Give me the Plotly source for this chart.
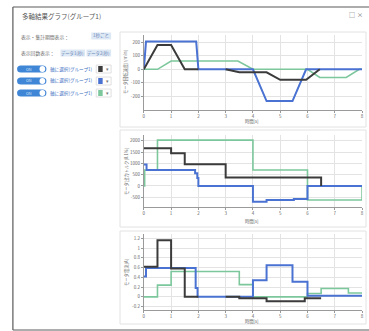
import plotly.graph_objects as go

W, H = 369, 331

# ---------------- data ----------------
# chart 1 : speed (linear segments)
speed_t_black = [0, 0.5, 1.0, 1.5, 2.0, None, 3.0, 3.5, 4.5, 5.0, 5.95, 6.45]
speed_black = [0, 180, 180, 0, 0, None, 0, -22, -22, -78, -78, 0]
speed_t_blue = [0, 0.08, 1.92, 2.0, 4.0, 4.5, 5.45, 5.95, 8.0]
speed_blue = [0, 205, 205, 0, 0, -235, -235, 0, 0]
speed_t_green = [0, 0.5, 1.0, 3.45, 4.0, 6.0, 6.45, 7.42, 7.9, 8.0]
speed_green = [0, 0, 62, 62, 0, 0, -60, -60, 0, 0]

# chart 2 : torque (steps)
torque_t_black = [0, 1.0, 1.5, 3.0, 6.5]
torque_black = [1660, 1450, 960, 370, 0]
torque_t_blue = [0, 0.1, 1.88, 1.96, 2.0, 4.0, 4.5, 5.5, 6.0, 8.0]
torque_blue = [950, 706, 560, 350, 0, -690, -620, -575, 0, 0]
torque_t_green = [0, 0.03, 0.5, 4.0, 6.0, 8.0]
torque_green = [0, 706, 2025, 706, -618, 0]

# chart 3 : current (steps)
current_t_black = [0, 0.5, 1.0, 1.5, 2.0, None, 3.0, 3.5, 4.5, 5.9, 6.5]
current_black = [0.62, 1.16, 0.58, 0, 0, None, 0, -0.03, -0.09, -0.03, -0.03]
current_t_blue = [0, 0.08, 1.9, 1.97, 2.0, 4.0, 4.5, 5.45, 6.0, 8.0]
current_blue = [0.42, 0.59, 0.18, 0.0, 0.0, 0.34, 0.65, 0.31, 0.02, 0.02]
current_t_green = [0, 0.5, 1.0, 3.5, 4.0, 6.0, 6.5, 7.5, 8.0]
current_green = [0, 0.24, 0.52, 0.25, 0, 0.07, 0.17, 0.08, 0.08]

x_ticks = [0, 1, 2, 3, 4, 5, 6, 7, 8]
speed_ticks = [-200, -100, 0, 100, 200]
torque_ticks = [-500, 0, 500, 1000, 1500, 2000]
current_ticks = [-0.2, 0, 0.2, 0.4, 0.6, 0.8, 1, 1.2]
current_ticktext = ["-0.2", "0", "0.2", "0.4", "0.6", "0.8", "1", "1.2"]

title = "多軸結果グラフ(グループ1)"
x_title = "時間[s]"
y_titles = ["モータ回転速度[r/min]", "モータ出力トルク[0.1%]", "モータ電流[A]"]
toggle_labels = ["軸に選択(グループ1)", "軸に選択(グループ1)", "軸に選択(グループ1)"]

BLACK = "#3b3b3b"
BLUE = "#4a72d2"
GREEN = "#7cc79c"
FONT = "Noto Sans CJK JP"


def px(x):
    return x / W


def py(y):
    return 1 - y / H


def text(s, x, y, size, color, xanchor="center", angle=0):
    return dict(text=s, x=px(x), y=py(y), xref="paper", yref="paper", xanchor=xanchor,
                yanchor="middle", showarrow=False, textangle=angle, borderpad=0,
                font=dict(size=size, color=color, family=FONT))


fig = go.Figure()

charts = [
    (speed_t_green, speed_green, speed_t_blue, speed_blue, speed_t_black, speed_black, "linear"),
    (torque_t_green, torque_green, torque_t_blue, torque_blue, torque_t_black, torque_black, "hv"),
    (current_t_green, current_green, current_t_blue, current_blue, current_t_black, current_black, "hv"),
]
for i, (tg, vg, tb, vb, tk, vk, shape) in enumerate(charts):
    xa = "x" if i == 0 else f"x{i+1}"
    ya = "y" if i == 0 else f"y{i+1}"
    fig.add_trace(go.Scatter(x=tg, y=vg, mode="lines", line=dict(color=GREEN, width=1.6, shape=shape),
                             xaxis=xa, yaxis=ya, showlegend=False, connectgaps=False))
    fig.add_trace(go.Scatter(x=tb, y=vb, mode="lines", line=dict(color=BLUE, width=2.0, shape=shape),
                             xaxis=xa, yaxis=ya, showlegend=False, connectgaps=False))
    fig.add_trace(go.Scatter(x=tk, y=vk, mode="lines", line=dict(color=BLACK, width=2.0, shape=shape),
                             xaxis=xa, yaxis=ya, showlegend=False, connectgaps=False))

xdom = [px(144), px(364)]
ydoms = [[py(110), py(35)], [py(207), py(135)], [py(310), py(234)]]
yranges = [[-301, 254], [-927, 2250], [-0.27, 1.29]]
ytv = [speed_ticks, torque_ticks, current_ticks]
ytt = [[str(v) for v in speed_ticks], [str(v) for v in torque_ticks], current_ticktext]

axis_common = dict(showgrid=True, gridcolor="#e3e3e3", gridwidth=1, zeroline=False,
                   showline=True, linecolor="#9a9a9a", linewidth=1,
                   tickfont=dict(size=4.5, color="#666", family=FONT),
                   ticks="outside", ticklen=2, tickcolor="#9a9a9a", fixedrange=True)

layout_axes = {}
for i in range(3):
    sx = "xaxis" if i == 0 else f"xaxis{i+1}"
    sy = "yaxis" if i == 0 else f"yaxis{i+1}"
    ya = "y" if i == 0 else f"y{i+1}"
    xa = "x" if i == 0 else f"x{i+1}"
    layout_axes[sx] = dict(domain=xdom, range=[0, 8], tickvals=x_ticks, anchor=ya, **axis_common)
    layout_axes[sy] = dict(domain=ydoms[i], range=yranges[i], tickvals=ytv[i], ticktext=ytt[i],
                           anchor=xa, **axis_common)

shapes = []
annotations = []

# outer dialog border
shapes.append(dict(type="line", xref="paper", yref="paper", x0=px(12), y0=py(7), x1=1.01, y1=py(7),
                   line=dict(color="#5a5a5a", width=1.2)))
shapes.append(dict(type="line", xref="paper", yref="paper", x0=px(12), y0=py(7), x1=px(12), y1=py(330),
                   line=dict(color="#5a5a5a", width=1.2)))
shapes.append(dict(type="line", xref="paper", yref="paper", x0=px(12), y0=py(330), x1=1.01, y1=py(330),
                   line=dict(color="#5a5a5a", width=1.0)))

# chart panels
for (t, b) in [(32, 127), (130, 227), (231, 324)]:
    shapes.append(dict(type="rect", xref="paper", yref="paper", x0=px(120), y0=py(b), x1=px(368), y1=py(t),
                       line=dict(color="#e2e2e2", width=1), fillcolor="rgba(0,0,0,0)", layer="below"))

# title
annotations.append(text(title, 20, 16, 6.5, "#555", xanchor="left"))
# window icons
annotations.append(text("□", 354, 15, 6, "#666"))
annotations.append(text("×", 362, 15, 6, "#666"))

# control rows
annotations.append(text("表示・集計期間表示：", 19, 36.5, 4.8, "#666", xanchor="left"))
shapes.append(dict(type="rect", xref="paper", yref="paper", x0=px(91), y0=py(39.5), x1=px(111), y1=py(32.5),
                   line=dict(width=0), fillcolor="#dde8f5"))
annotations.append(text("1秒ごと", 101, 36, 4.5, "#6a86b5"))
annotations.append(text("表示回数表示：", 19, 53, 4.8, "#666", xanchor="left"))
shapes.append(dict(type="rect", xref="paper", yref="paper", x0=px(60), y0=py(56.5), x1=px(84.8), y1=py(49.5),
                   line=dict(width=0), fillcolor="#dde8f5"))
shapes.append(dict(type="rect", xref="paper", yref="paper", x0=px(86.2), y0=py(56.5), x1=px(111), y1=py(49.5),
                   line=dict(width=0), fillcolor="#dde8f5"))
annotations.append(text("データ1(秒)", 72.4, 53, 4.3, "#6a86b5"))
annotations.append(text("データ2(秒)", 98.6, 53, 4.3, "#6a86b5"))

swatches = [BLACK, BLUE, GREEN]
for i, yc in enumerate([69, 81, 93]):
    # toggle pill
    shapes.append(dict(type="path", xref="paper", yref="paper",
                       path=f"M {px(20)},{py(yc-3.6)} L {px(42)},{py(yc-3.6)} "
                            f"Q {px(45.8)},{py(yc-3.6)} {px(45.8)},{py(yc)} "
                            f"Q {px(45.8)},{py(yc+3.6)} {px(42)},{py(yc+3.6)} "
                            f"L {px(20)},{py(yc+3.6)} Q {px(16.2)},{py(yc+3.6)} {px(16.2)},{py(yc)} "
                            f"Q {px(16.2)},{py(yc-3.6)} {px(20)},{py(yc-3.6)} Z",
                       line=dict(width=0), fillcolor="#3f86d6"))
    shapes.append(dict(type="circle", xref="paper", yref="paper", x0=px(38.8), y0=py(yc+2.9), x1=px(44.6),
                       y1=py(yc-2.9), line=dict(width=0), fillcolor="white"))
    annotations.append(text("ON", 28, yc, 3.8, "#d8e8fa"))
    annotations.append(text(toggle_labels[i], 48, yc, 4.6, "#3d70c2", xanchor="left"))
    # colour picker
    shapes.append(dict(type="rect", xref="paper", yref="paper", x0=px(96), y0=py(yc+4), x1=px(111), y1=py(yc-4),
                       line=dict(color="#d8d8d8", width=0.8), fillcolor="white"))
    shapes.append(dict(type="rect", xref="paper", yref="paper", x0=px(98), y0=py(yc+3), x1=px(102.5),
                       y1=py(yc-3), line=dict(width=0), fillcolor=swatches[i]))
    annotations.append(text("▾", 107, yc, 4.5, "#777"))

# axis titles
for i, (yt, xt_y) in enumerate([(72, 121.5), (171, 221.5), (272, 321)]):
    annotations.append(text(y_titles[i], 126, yt, 4.3, "#666", angle=-90))
    annotations.append(text(x_title, 253, xt_y, 4.3, "#666"))

fig.update_layout(
    width=W, height=H, margin=dict(l=0, r=0, t=0, b=0),
    paper_bgcolor="white", plot_bgcolor="white",
    shapes=shapes, annotations=annotations, showlegend=False,
    font=dict(family=FONT),
    **layout_axes,
)

fig.write_html("out.html", config={"displayModeBar": False, "staticPlot": True})

# remove the default page margin so the figure sits at the window's top-left corner
with open("out.html", "r", encoding="utf-8") as f:
    html = f.read()
html = html.replace("<head>", "<head><style>html,body{margin:0;padding:0;overflow:hidden;}</style>", 1)
with open("out.html", "w", encoding="utf-8") as f:
    f.write(html)
